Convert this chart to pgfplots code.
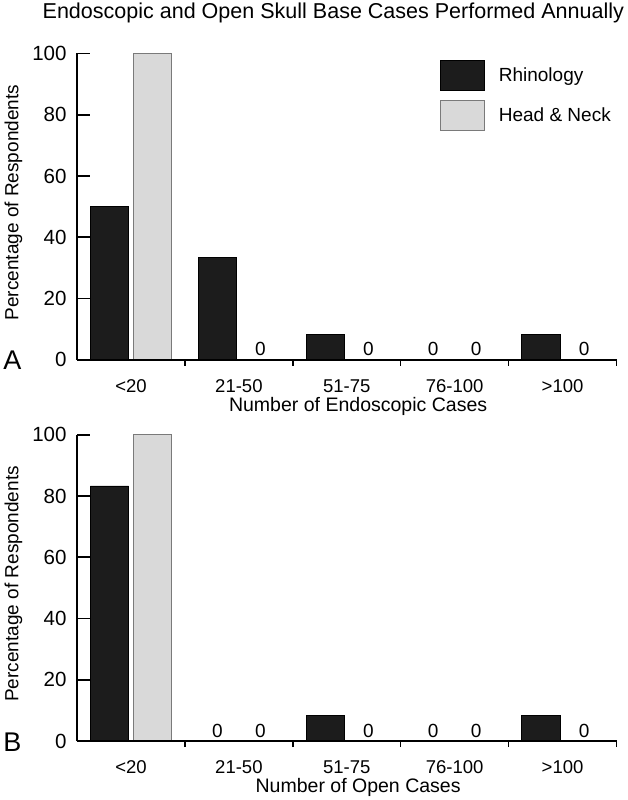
\documentclass[border=0pt]{standalone}
\usepackage{fontspec}
\setmainfont{Liberation Sans}
\usepackage{pgfplots}
\pgfplotsset{compat=1.18}

\definecolor{rhino}{HTML}{1C1C1C}
\definecolor{hn}{HTML}{D9D9D9}
\definecolor{hnedge}{HTML}{7A7A7A}

\pgfplotsset{
  panel/.style={
    scale only axis, width=539pt, height=306pt,
    xmin=-0.5, xmax=4.5, ymin=0, ymax=100,
    axis x line*=bottom, axis y line*=left,
    axis line style={line width=1.6pt, -},
    ytick={0,20,...,100},
    xtick={0,...,4},
    xticklabels={<20,21-50,51-75,76-100,>100},
    minor xtick={0.5,1.5,2.5,3.5,4.5},
    major x tick style={draw=none},
    minor x tick style={line width=1.4pt, black},
    major y tick style={line width=1.6pt, black},
    major tick length=13pt, minor tick length=6pt,
    tick align=inside,
    /pgf/number format/assume math mode=true,
    yticklabel style={font=\fontsize{20.5}{24}\selectfont, xshift=-7pt},
    xticklabel style={font=\fontsize{18.5}{22}\selectfont, yshift=-3pt},
    ylabel={Percentage of Respondents},
    every axis y label/.style={at={(axis description cs:-0.118,0.513)}, rotate=90, anchor=center, font=\fontsize{19}{23}\selectfont},
    every axis x label/.style={at={(axis description cs:0.521,-0.152)}, anchor=center, font=\fontsize{19.5}{23}\selectfont},
    ybar, bar width=0.355,
    nodes near coords, point meta=explicit symbolic,
    every node near coord/.append style={font=\fontsize{19}{23}\selectfont, black},
    clip=false,
    axis on top,
  },
  rh/.style={fill=rhino, draw=black, line width=0.8pt, bar shift=-0.2},
  hn/.style={fill=hn, draw=hnedge, line width=1pt, bar shift=0.2},
}

\begin{document}
\begin{tikzpicture}
% A: endoscopic cases
\begin{axis}[panel,
  xlabel={Number of Endoscopic Cases},
  legend style={draw=none, fill=none, at={(axis description cs:0.672,0.98)}, anchor=north west,
    font=\fontsize{19}{23}\selectfont, row sep=9pt, inner sep=0pt,
    /tikz/every odd column/.style={column sep=12pt}},
  legend cell align=left,
  legend image code/.code={\draw[#1] (0pt,-15pt) rectangle (44pt,15pt);},
]
\addplot[rh] coordinates {(0,50) [] (1,33.3) [] (2,8.3) [] (3,0) [0] (4,8.3) []};
\addplot[hn] coordinates {(0,100) [] (1,0) [0] (2,0) [0] (3,0) [0] (4,0) [0]};
\legend{Rhinology, Head \& Neck}
\node[font=\fontsize{21.5}{26}\selectfont] at (axis description cs:0.475,1.131) {Endoscopic and Open Skull Base Cases Performed Annually};
\node[font=\fontsize{27}{31}\selectfont] at (axis description cs:-0.12,-0.003) {A};
\end{axis}
% B: open cases
\begin{axis}[panel, at={(0,-381pt)},
  xlabel={Number of Open Cases},
]
\addplot[rh] coordinates {(0,83.3) [] (1,0) [0] (2,8.3) [] (3,0) [0] (4,8.3) []};
\addplot[hn] coordinates {(0,100) [] (1,0) [0] (2,0) [0] (3,0) [0] (4,0) [0]};
\node[font=\fontsize{27}{31}\selectfont] at (axis description cs:-0.12,-0.003) {B};
\end{axis}
\end{tikzpicture}
\end{document}
